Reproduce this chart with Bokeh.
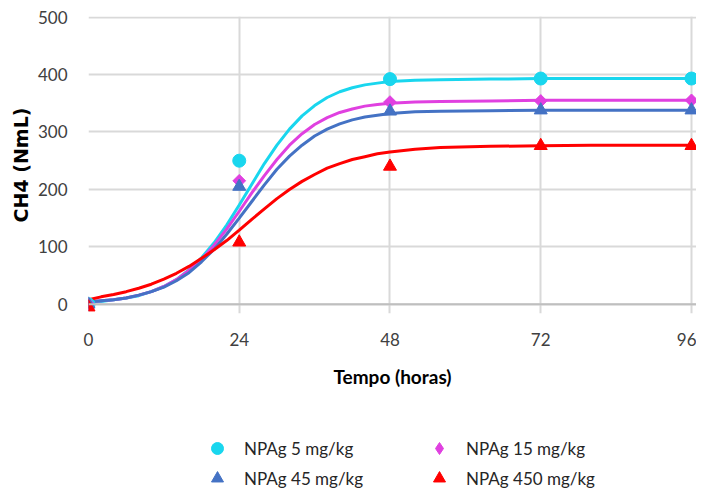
from bokeh.plotting import figure
from bokeh.models import Range1d, FixedTicker, Span, Legend, LegendItem
from bokeh.layouts import column
from bokeh.embed import file_html
from bokeh.resources import INLINE
import math

# ---------------- data ----------------
obs_hours = [0, 24, 48, 72, 96]
obs_5 = [0, 250, 392, 393, 393]
obs_15 = [0, 215, 352, 354, 355]
obs_45 = [0, 205, 336, 338, 338]
obs_450 = [-5, 108, 240, 276, 276]

fit_hours = [0, 2, 4, 6, 8, 10, 12, 14, 16, 18, 20, 22, 24, 26, 28, 30, 32, 34,
             36, 38, 40, 42, 44, 46, 48, 52, 56, 64, 72, 80, 88, 96]
fit_5 = [4, 5, 8, 11, 15, 22, 31, 43, 60, 81, 107, 138, 173, 209, 245, 277, 305, 328,
         346, 360, 370, 377, 382, 385, 388, 390, 391, 392, 393, 393, 393, 393]
fit_15 = [4, 6, 8, 11, 16, 22, 31, 43, 59, 78, 103, 131, 162, 194, 224, 252, 277, 297,
          313, 325, 334, 340, 345, 348, 350, 352, 353, 354, 355, 355, 355, 355]
fit_45 = [4, 6, 8, 11, 16, 22, 30, 41, 55, 74, 96, 122, 150, 179, 208, 235, 258, 277,
          293, 305, 314, 321, 326, 329, 332, 335, 336, 337, 338, 338, 338, 338]
fit_450 = [8, 13, 17, 22, 28, 35, 44, 54, 66, 80, 95, 111, 129, 148, 166, 184, 200, 214,
           226, 237, 245, 252, 257, 262, 265, 270, 273, 275, 276, 277, 277, 277]

labels = ["NPAg 5 mg/kg", "NPAg 15 mg/kg", "NPAg 45 mg/kg", "NPAg 450 mg/kg"]
colors = ["#19D6EE", "#E040E0", "#4472C4", "#FF0000"]
markers = ["circle", "square", "triangle", "triangle"]
legend_markers = ["circle", "diamond", "triangle", "triangle"]
marker_sizes = [13, 9, 13, 13]
marker_angles = [0, math.pi / 4, 0, 0]

x_ticks = [0, 24, 48, 72, 96]
y_ticks = [0, 100, 200, 300, 400, 500]

obs = [obs_5, obs_15, obs_45, obs_450]
fits = [fit_5, fit_15, fit_45, fit_450]

# ---------------- main chart ----------------
p = figure(width=696, height=413,
           x_range=Range1d(0, 96.8), y_range=Range1d(-16, 501),
           output_backend="svg", toolbar_location=None,
           min_border_left=88, min_border_right=0, min_border_top=16,
           min_border_bottom=100)
p.outline_line_color = None
p.background_fill_color = "white"
p.border_fill_color = "white"

p.xaxis.ticker = FixedTicker(ticks=x_ticks)
p.yaxis.ticker = FixedTicker(ticks=y_ticks)
for ax in (p.xaxis, p.yaxis):
    ax.axis_line_color = None
    ax.major_tick_line_color = None
    ax.minor_tick_line_color = None
    ax.major_label_text_font = "Lato"
    ax.major_label_text_font_size = "17px"
    ax.major_label_text_color = "#404040"
    ax.axis_label_text_color = "#000000"
    ax.axis_label_text_font_style = "bold"

p.xaxis.major_label_standoff = 13
p.yaxis.major_label_standoff = 15
p.xaxis.axis_label = "Tempo (horas)"
p.xaxis.axis_label_text_font = "Lato"
p.xaxis.axis_label_text_font_size = "19px"
p.xaxis.axis_label_standoff = 16
p.yaxis.axis_label = "CH4 (NmL)"
p.yaxis.axis_label_text_font = "DejaVu Sans"
p.yaxis.axis_label_text_font_size = "19px"
p.yaxis.axis_label_standoff = 3

p.xgrid.grid_line_color = "#D9D9D9"
p.xgrid.grid_line_width = 2
p.ygrid.grid_line_color = "#D9D9D9"
p.ygrid.grid_line_width = 2

p.add_layout(Span(location=0, dimension="width", line_color="#BFBFBF", line_width=2))

# fitted curves
for vals, c in zip(fits, colors):
    p.line(fit_hours, vals, line_color=c, line_width=3)

# observed points
for vals, c, m, s, a in zip(obs, colors, markers, marker_sizes, marker_angles):
    p.scatter(obs_hours, vals, marker=m, size=s, angle=a, fill_color=c, line_color=c)

# ---------------- legend strip ----------------
# same observed data, drawn in a strip whose ranges show none of it (legend swatches only)
pl = figure(width=696, height=76, x_range=Range1d(0, 1), y_range=Range1d(1000, 1001),
            output_backend="svg", toolbar_location=None,
            min_border_left=88, min_border_right=0, min_border_top=0, min_border_bottom=0)
pl.outline_line_color = None
pl.xaxis.visible = False
pl.yaxis.visible = False
pl.xgrid.visible = False
pl.ygrid.visible = False

leg_r = []
for vals, c, m, s in zip(obs, colors, legend_markers, marker_sizes):
    leg_r.append(pl.scatter(obs_hours, vals, marker=m, size=s,
                            fill_color=c, line_color=c))

legend = Legend(items=[LegendItem(label=labels[0], renderers=[leg_r[0]]),
                       LegendItem(label=labels[2], renderers=[leg_r[2]]),
                       LegendItem(label=labels[1], renderers=[leg_r[1]]),
                       LegendItem(label=labels[3], renderers=[leg_r[3]])],
                location=(113, -4), orientation="vertical", nrows=2,
                padding=0, margin=0, spacing=0,
                glyph_width=32, glyph_height=30, label_height=20, label_width=179,
                label_standoff=11,
                label_text_font="Lato", label_text_font_size="17px",
                label_text_color="#262626",
                border_line_color=None, background_fill_alpha=0)
pl.add_layout(legend, "center")

layout = column(p, pl, spacing=0)
open("out.html", "w").write(file_html(layout, INLINE))
